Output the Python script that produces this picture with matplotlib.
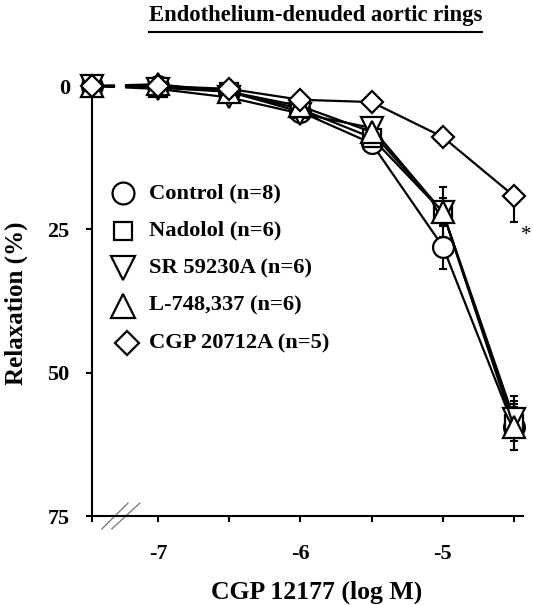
import numpy as np
import matplotlib
matplotlib.use('Agg')
import matplotlib.pyplot as plt
from matplotlib.lines import Line2D

plt.rcParams['font.family'] = ['Liberation Serif', 'DejaVu Serif']
plt.rcParams['font.weight'] = 'bold'

# log concentrations of CGP 12177, plus the basal point drawn on the y axis
log_conc = [-7.0, -6.5, -6.0, -5.5, -5.0, -4.5]
basal_x = -7.463
basal_val = 0.0

names = ['Control (n=8)', 'Nadolol (n=6)', 'SR 59230A (n=6)',
         'L-748,337 (n=6)', 'CGP 20712A (n=5)']

control = [0.0, 1.0, 4.5, 10.0, 28.0, 59.5]
nadolol = [0.3, 1.0, 4.0, 9.0, 22.0, 59.0]
sr59230a = [0.5, 2.0, 4.8, 7.3, 22.0, 58.0]
l748337 = [-0.3, 1.0, 3.5, 8.0, 22.0, 59.5]
cgp20712a = [0.0, 0.5, 2.4, 2.8, 8.9, 19.2]

# sem (lower side, upper side)
control_err = ([0.3, 0.5, 0.8, 1.0, 4.0, 4.0], [0.3, 0.5, 0.8, 1.0, 4.0, 4.0])
nadolol_err = ([0.3, 0.5, 0.8, 1.0, 2.0, 3.0], [0.3, 0.5, 0.8, 1.0, 2.0, 3.0])
sr_err = ([0.3, 0.5, 0.8, 1.0, 2.5, 3.0], [0.3, 0.5, 0.8, 1.0, 2.5, 3.0])
l748_err = ([0.3, 0.5, 0.8, 1.0, 4.4, 5.5], [0.3, 0.5, 0.8, 1.0, 4.4, 4.0])
cgp_err = ([0.0, 0.0, 0.0, 0.0, 0.0, 0.0], [0.3, 0.5, 0.5, 0.8, 1.0, 4.5])

series = [control, nadolol, sr59230a, l748337, cgp20712a]
errors = [control_err, nadolol_err, sr_err, l748_err, cgp_err]
markers = [('o', 15), ('s', 12.5), ('v', 16), ('^', 16), ('D', 11.7)]

W, H = 533, 605
fig = plt.figure(figsize=(W / 100, H / 100), dpi=100)
ax = fig.add_axes([92 / W, 1 - 516 / H, (523 - 92) / W, (516 - 86) / H])

lw = 1.6
for vals, err, (m, ms) in zip(series, errors, markers):
    # broken connection from basal point to first concentration
    dx = log_conc[0] - basal_x
    dy = vals[0] - basal_val
    ax.plot([basal_x, basal_x + 0.33 * dx], [basal_val, basal_val + 0.33 * dy],
            color='k', lw=lw, clip_on=False, zorder=2)
    ax.plot([basal_x + 0.52 * dx, log_conc[0]], [basal_val + 0.52 * dy, vals[0]],
            color='k', lw=lw, clip_on=False, zorder=2)
    ax.errorbar(log_conc, vals, yerr=[err[0], err[1]], fmt='none', ecolor='k',
                elinewidth=1.5, capsize=3, capthick=1.5, zorder=2)
    ax.plot(log_conc, vals, color='k', lw=lw, marker=m, ms=ms, mfc='white',
            mec='k', mew=1.6, clip_on=False, zorder=3)
    ax.plot([basal_x], [basal_val], marker=m, ms=ms, mfc='white', mec='k',
            mew=1.6, clip_on=False, zorder=3)

ax.set_xlim(basal_x, -4.437)
ax.set_ylim(75, 0)
ax.set_xticks([-7, -6, -5])
ax.set_xticklabels(['-7', '-6', '-5'])
ax.set_xticks([basal_x, -6.5, -5.5, -4.5], minor=True)
ax.set_yticks([0, 25, 50, 75])
ax.tick_params(axis='both', which='both', direction='out', length=4,
               width=1.5, labelsize=16)
ax.tick_params(axis='x', pad=16)
ax.tick_params(axis='y', pad=12)
for s in ['top', 'right']:
    ax.spines[s].set_visible(False)
for s in ['left', 'bottom']:
    ax.spines[s].set_linewidth(1.5)

# axis break marks
for x0, x1 in [(0.023, 0.0835), (0.046, 0.111)]:
    ax.plot([x0, x1], [-0.030, 0.030], transform=ax.transAxes, color='0.45',
            lw=0.9, clip_on=False)

# asterisk next to CGP 20712A last point
ax.annotate('*', xy=(log_conc[-1], cgp20712a[-1] + cgp_err[1][-1]),
            xytext=(9, -10), textcoords='offset points', ha='center',
            va='center', fontsize=15, fontweight='normal')

# legend
for i, (name, (m, ms)) in enumerate(zip(names, markers)):
    yp = 1 - (193 + 37.5 * i) / H
    xm = (127 if m == 'D' else 123) / W
    fig.add_artist(Line2D([xm], [yp], marker=m, ms=ms * 1.05, mfc='white',
                          mec='k', mew=1.6, transform=fig.transFigure))
    fig.text(149 / W, yp, name, va='center', ha='left', fontsize=16.2)

fig.text(16 / W, 1 - 303 / H, 'Relaxation (%)', rotation=90, ha='center',
         va='center', fontsize=18)
fig.text(317 / W, 1 - 599 / H, 'CGP 12177 (log M)', ha='center',
         va='baseline', fontsize=18.5)

title = fig.text(315.5 / W, 1 - 15 / H, 'Endothelium-denuded aortic rings',
                 ha='center', va='center', fontsize=16.3)
fig.canvas.draw()
bb = title.get_window_extent()
fig.add_artist(Line2D([bb.x0 / W, bb.x1 / W], [1 - 32 / H, 1 - 32 / H],
                      color='k', lw=1.5, transform=fig.transFigure))

fig.savefig('out.png', dpi=100)
